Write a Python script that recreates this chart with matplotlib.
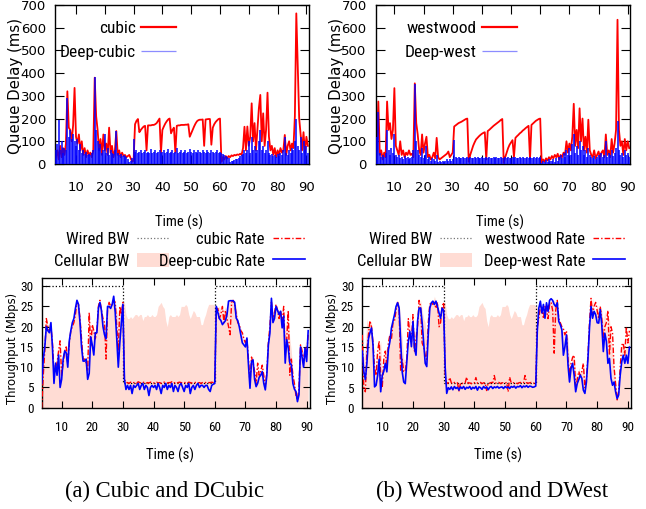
import matplotlib
matplotlib.use("Agg")
import matplotlib.pyplot as plt
import numpy as np
from matplotlib import font_manager
from matplotlib.font_manager import FontProperties

# queue delay (ms), one sample every 0.5 s starting at t = 3.0 s
delay_t0 = 3.0
cubic_delay = [
    30, 60, 20, 80, 30, 70, 40, 90, 320, 160, 150, 100, 170, 335,
    120, 90, 130, 60, 100, 40, 70, 30, 60, 40, 50, 30, 60, 380, 210, 150, 60, 110, 40, 130,
    60, 90, 40, 160, 50, 80, 30, 60, 145, 40, 60, 30, 50, 35, 40, 30, 35, 40, 25, 10,
    15, 175, 190, 198, 140, 150, 158, 165, 168, 60, 170, 170, 170, 172, 172, 175, 180, 190, 200, 50,
    150, 165, 178, 188, 196, 200, 135, 150, 160, 50, 168, 170, 170, 172, 172, 172, 173, 173, 175, 120,
    135, 150, 165, 178, 188, 193, 195, 195, 196, 80, 196, 197, 198, 198, 85, 160, 175, 185, 192, 198,
    200, 10, 30, 20, 35, 25, 35, 30, 38, 35, 40, 38, 42, 40, 45, 40, 70, 164, 60, 165,
    80, 120, 267, 100, 180, 60, 150, 245, 304, 100, 223, 80, 150, 314, 120, 60, 80, 40, 70, 30,
    60, 40, 70, 50, 60, 128, 40, 80, 100, 60, 90, 70, 210, 663, 430, 200, 130, 60, 140, 50,
    120, 80,
]
deep_cubic_delay = [
    60, 90, 195, 60, 100, 50, 70, 60, 290, 120, 150, 110, 130, 100,
    80, 110, 60, 90, 50, 60, 45, 55, 40, 45, 40, 50, 60, 385, 150, 100, 70, 90, 50, 60,
    130, 50, 70, 40, 60, 50, 45, 60, 145, 50, 40, 45, 35, 40, 35, 30, 20, 10, 15, 25,
    110, 55, 60, 50, 55, 60, 50, 55, 60, 50, 55, 50, 65, 50, 55, 60, 50, 55, 60, 50,
    55, 60, 50, 55, 65, 50, 55, 60, 50, 55, 70, 50, 55, 60, 50, 55, 60, 50, 55, 65,
    55, 50, 60, 55, 50, 60, 55, 50, 60, 55, 50, 60, 55, 50, 60, 55, 50, 55, 60, 50,
    55, 50, 45, 40, 35, 30, 25, 10, 12, 15, 18, 20, 22, 25, 35, 40, 45, 60, 50, 60,
    100, 50, 120, 60, 80, 50, 60, 100, 150, 60, 80, 50, 60, 100, 50, 40, 45, 35, 40, 30,
    45, 35, 50, 40, 60, 120, 50, 40, 60, 50, 70, 60, 100, 200, 80, 60, 120, 50, 100, 60,
    80, 50,
]
westwood_delay = [
    20, 40, 60, 275, 40, 60, 20, 50, 30, 275, 150, 180, 110, 150,
    334, 80, 60, 40, 100, 40, 60, 30, 50, 40, 60, 40, 45, 30, 355, 180, 130, 60, 40, 130,
    50, 90, 120, 30, 40, 20, 30, 50, 25, 115, 30, 20, 25, 30, 35, 40, 45, 55, 30, 40,
    50, 165, 170, 175, 180, 183, 186, 190, 194, 198, 200, 10, 40, 60, 80, 95, 108, 115, 122, 128,
    133, 137, 140, 20, 145, 150, 156, 162, 168, 173, 178, 183, 188, 194, 198, 5, 30, 50, 70, 85,
    95, 105, 30, 115, 122, 128, 135, 140, 147, 152, 158, 163, 168, 20, 172, 178, 184, 190, 194, 198,
    200, 5, 20, 10, 25, 15, 30, 20, 35, 25, 40, 30, 45, 20, 40, 30, 50, 40, 100, 50,
    90, 60, 120, 265, 80, 150, 70, 245, 100, 200, 60, 120, 50, 195, 60, 40, 30, 60, 25, 40,
    55, 30, 50, 60, 30, 130, 40, 60, 30, 110, 50, 90, 150, 635, 150, 80, 100, 40, 110, 60,
    100, 70,
]
deep_west_delay = [
    100, 60, 120, 230, 50, 30, 40, 30, 50, 150, 60, 40, 70, 50,
    130, 40, 30, 40, 25, 30, 20, 35, 25, 30, 20, 25, 30, 60, 350, 100, 60, 40, 30, 70,
    25, 40, 80, 20, 30, 15, 25, 20, 15, 40, 10, 15, 10, 15, 10, 15, 20, 15, 20, 15,
    20, 105, 30, 28, 29, 27, 28, 30, 28, 27, 29, 28, 30, 27, 28, 29, 28, 30, 27, 28,
    29, 28, 27, 30, 28, 29, 27, 28, 30, 28, 29, 27, 28, 30, 28, 27, 29, 28, 30, 28,
    27, 29, 28, 30, 28, 27, 29, 28, 30, 27, 28, 29, 28, 30, 27, 28, 29, 28, 30, 28,
    29, 5, 15, 8, 18, 10, 20, 12, 15, 20, 10, 25, 15, 30, 40, 25, 50, 30, 60, 40,
    70, 40, 90, 130, 50, 80, 40, 100, 60, 80, 40, 60, 30, 70, 40, 30, 25, 35, 20, 30,
    40, 25, 50, 30, 40, 100, 30, 50, 40, 60, 35, 50, 70, 190, 60, 40, 50, 30, 60, 40,
    50, 30,
]

# throughput (Mbps), one sample every 0.5 s starting at t = 3.5 s
rate_t0 = 3.5
cellular_bw = [
    18, 12, 15, 22, 20, 21, 21, 16, 9, 11, 13, 15, 16.5,
    8, 12, 14, 15, 15, 17, 19.5, 21, 22, 24.5, 26.5, 25.5, 22, 17, 12, 12, 12, 14, 23.5, 17.5,
    20.5, 19, 18.5, 19.5, 25.5, 26.5, 24, 22, 21, 17, 25, 26, 25.5, 26, 27.5, 26, 24, 22, 25, 25,
    26, 26, 23, 22, 22, 22.5, 22, 22.5, 23, 23, 22.5, 23, 23, 21.5, 22.5, 22.5, 23, 22.5, 22.5, 23,
    22.5, 22.5, 23, 25, 25.5, 26, 25, 24.5, 21.5, 20, 22.5, 23, 22.5, 22.5, 22.5, 23, 22.5, 23, 25, 25,
    25, 25.5, 25, 23, 22, 23, 24, 23.5, 22.5, 22.5, 22.5, 20.5, 20.5, 22, 23, 24.5, 25.5, 25.5, 25.5, 25.5,
    25, 25, 24.5, 25, 24, 25, 24, 25, 23.5, 26, 26.5, 26.5, 26.5, 26, 25, 22, 20.5, 19.5, 18.5, 17,
    17, 17.5, 12, 10, 12.5, 12.5, 9, 7, 10, 8.5, 9, 11, 8, 6, 12, 19, 24, 27, 23, 24,
    25.5, 24, 24, 24, 21, 24, 19, 22, 22, 17, 14, 9, 6, 4, 3, 8, 15.5, 15, 12, 16,
    14, 19,
]
cubic_rate = [
    0, 8, 14, 22, 20, 19, 20, 16, 9, 10, 11, 14, 16.5,
    8, 11, 14, 15, 11, 16, 19, 20, 21, 23, 26, 25.5, 22, 17, 12, 12, 11, 9, 23.5, 15,
    20.5, 19, 17, 19, 25, 26.5, 24, 22, 21, 12, 24.5, 26, 25, 25.5, 26.5, 26, 20, 14, 25, 23,
    26, 7, 6.2, 6.2, 6, 6.3, 6.1, 6.2, 6.2, 6, 6.4, 6.2, 6.1, 6.3, 6.2, 6, 6.2, 6.1, 6.3, 6.2,
    6.1, 6.2, 6.3, 6.1, 6.2, 6, 6.2, 6.3, 6.2, 6.1, 6.2, 6.2, 6.4, 6.1, 6.2, 6, 6.2, 6.3, 6.2, 6.1,
    6.2, 6.2, 6, 6.3, 6.2, 6.1, 6.2, 6.2, 6.3, 6.1, 6.2, 6, 6.2, 6.3, 6.2, 6.1, 6.2, 6.2, 6.3, 6.2,
    6.5, 24, 24.5, 22, 23, 25, 21, 24, 22, 20, 18, 26, 26.5, 25.5, 23, 21, 20.5, 19, 18.5, 17,
    16, 17, 12, 6, 12.5, 11, 9, 6, 11, 8, 9, 10.5, 8, 5, 9, 16, 20, 26, 22, 23.5,
    25.5, 24, 22, 24, 21, 25, 13, 17, 24, 8, 12, 8, 6, 3, 2, 5, 15.5, 14, 11, 15,
    13, 18,
]
deep_cubic_rate = [
    6, 12, 15, 20, 19, 18.5, 21, 15, 6, 11, 8, 13, 5,
    7, 12, 14, 13.5, 10, 16.5, 19, 21, 22, 24.5, 26.5, 25.5, 21, 15, 11.5, 11.5, 12, 7, 8.5, 17.5,
    15.5, 13, 18.5, 18.5, 24.5, 26, 24, 20, 18, 17, 25, 25, 24.5, 25.5, 27.5, 23.5, 17, 10, 16, 21,
    25.5, 7, 4.5, 5.5, 4.5, 5.5, 3.5, 5.5, 5, 5.5, 6, 4.5, 5.5, 6, 4.5, 5.5, 5, 3, 5, 5.5,
    5, 5.5, 4.5, 6, 5, 3.5, 5.5, 5, 6, 4.5, 5.5, 5, 6, 4, 5.5, 5, 4, 5.5, 6, 5,
    4, 5.5, 5, 6, 3.5, 5, 5.5, 4.5, 5.5, 6, 5, 5.5, 5.5, 5, 5.5, 5.5, 4.5, 4, 5.5, 5.8,
    6, 25, 23.5, 22, 21.5, 20.5, 21, 21.5, 23, 26.3, 26.4, 26.4, 26.4, 26, 22.1, 21.5, 20, 18, 16, 15.5,
    15, 17.2, 10.6, 4.8, 11.4, 11.8, 7, 5.2, 6, 7.5, 8, 8.9, 6, 4.4, 8, 15.5, 18.4, 27, 21, 22,
    25, 24, 23, 23.8, 19.7, 22.6, 11, 16.8, 14.7, 11, 10.6, 6, 4.6, 4, 1.5, 3.2, 15, 12.5, 10, 14.7,
    11.4, 19,
]
westwood_rate = [
    18, 5, 4, 14, 18, 21.5, 20, 16, 10, 8, 14, 16.5, 8,
    5, 12, 14, 10, 16, 18, 17, 21, 21.5, 24, 26, 24, 9, 12, 9, 9, 12, 22, 18, 16,
    23, 14, 17, 20, 26.5, 25, 16, 15, 13, 12, 21, 25.5, 26, 25.5, 26, 24.5, 26, 20, 21, 25,
    26, 8, 6, 6.2, 7.5, 6.2, 6, 6.3, 6.1, 6.2, 4.2, 6.2, 6, 6.3, 6.2, 7.6, 6.1, 6.2, 6, 6.3,
    6.2, 7.5, 6.1, 6.2, 6.3, 6, 6.2, 6.2, 4.3, 6.2, 6.1, 6.3, 6.2, 8, 6.1, 6.2, 6.3, 6, 6.2, 6.2,
    6.1, 6.3, 4, 7.6, 6.2, 6.1, 6.3, 6.2, 6, 6.2, 6.3, 6.1, 6.2, 8, 6.2, 6.1, 6.2, 6.3, 6.2, 6.1,
    6.5, 20, 22, 25, 24.5, 22, 25, 24, 22, 25.5, 26, 24, 13.5, 24, 26.5, 22, 21, 20, 19.5, 18,
    19, 12, 8, 11, 12.5, 13, 5, 7, 9, 8, 9, 11, 5, 7, 13, 21, 27, 23, 25, 26,
    24, 22, 25, 22, 17, 20, 21, 24, 13, 20, 18.5, 10, 6, 2, 4, 10, 15.5, 16, 13, 20,
    16, 19,
]
deep_west_rate = [
    14, 9, 7, 11, 17, 18.5, 19.7, 15.5, 5.2, 5.6, 8, 12, 4,
    8, 9, 11, 8.9, 14.3, 16.4, 19.7, 21.3, 23, 25, 25.9, 24.6, 16.4, 8.9, 6.4, 6, 11.4, 16.4, 18.8, 15.1,
    21.3, 14.7, 13, 21.3, 24.6, 24.6, 21, 16, 11, 10.2, 18.4, 24.6, 25.9, 26.3, 25.5, 26.3, 25, 23.4, 22.1, 24.6,
    24, 10, 3.6, 5, 4.6, 5.2, 4.5, 5.3, 4.8, 5.1, 4.4, 5.2, 4.8, 5.3, 4.6, 5.1, 4.9, 5.3, 4.6, 5.1,
    4.8, 5.3, 4.4, 5.2, 5, 4.6, 5.3, 4.9, 5.2, 4.5, 5.1, 5.3, 4.8, 5.2, 5, 5.3, 4.9, 5.1, 5.2, 4.8,
    5.3, 5, 5.2, 4.8, 5.3, 5.1, 5.4, 4.9, 5.3, 5.2, 5.5, 5, 5.4, 5.2, 5.5, 5.1, 5.4, 5.3, 5.1, 5.2,
    5.4, 19, 24.6, 26.3, 23.4, 25.5, 22.1, 25.9, 23.8, 26.5, 26.9, 26.5, 25.5, 25, 25.9, 21.3, 20.5, 19.3, 13, 15.1,
    18, 10.6, 6.4, 9.8, 11, 8.1, 4, 6, 7, 8.1, 7.3, 4.4, 3.6, 6.4, 12.2, 19.7, 25, 22.1, 23.8, 23,
    21, 20.9, 24.2, 20.5, 13.9, 18.4, 16.4, 11, 12.2, 7.3, 5.6, 6.4, 4, 2.3, 3.2, 8.1, 11.4, 13, 11, 13,
    11, 15,
]
wired_t = [3.5, 30, 30, 60, 60, 91]
wired_bw = [30, 30, 6.2, 6.2, 30, 30]


def pick_narrow():
    entries = font_manager.fontManager.ttflist
    names = {f.name for f in entries}
    for fam in ("Liberation Sans Narrow", "Roboto Condensed", "Open Sans Condensed"):
        if fam in names:
            return fam, "normal", 1.0
    for f in entries:
        if f.name == "DejaVu Sans" and str(f.stretch) in ("condensed", "semi-condensed"):
            return "DejaVu Sans", "condensed", 0.9
    return "DejaVu Sans", "normal", 0.85


NARROW, STRETCH, K = pick_narrow()


def nfont(size):
    return FontProperties(family=NARROW, stretch=STRETCH, size=size * K)


RED = "#ff0000"
BLUE = "#0000ff"
PINK = "#ffdcd4"

fig = plt.figure(figsize=(6.46, 5.09), dpi=100)


def style_axes(ax, xlim, ylim, yticks, tick_fp, tick_len, xpad, ypad):
    ax.set_xlim(*xlim)
    ax.set_ylim(*ylim)
    ax.set_xticks(range(10, 91, 10))
    ax.set_yticks(yticks)
    ax.tick_params(direction="in", top=True, right=True, length=tick_len, width=0.8)
    ax.tick_params(axis="x", pad=xpad)
    ax.tick_params(axis="y", pad=ypad)
    for lab in ax.get_xticklabels() + ax.get_yticklabels():
        lab.set_fontproperties(tick_fp)
    for sp in ax.spines.values():
        sp.set_linewidth(1.0)


def delay_panel(rect, red_vals, blue_vals, red_label, blue_label, xlim, leg_x, xlab_x):
    ax = fig.add_axes(rect)
    t = delay_t0 + 0.5 * np.arange(len(red_vals))
    ax.plot(t, red_vals, color=RED, lw=1.3, label=red_label, zorder=2)
    ax.vlines(t, 0, blue_vals, color=BLUE, lw=1.1, label=blue_label, zorder=3)
    style_axes(ax, xlim, (0, 700), range(0, 701, 100),
               FontProperties(family="DejaVu Sans", size=9.5), 6.5, 12, 6.5)
    ax.set_xlabel("Time (s)", fontproperties=nfont(10.5))
    ax.xaxis.label.set_va("center")
    ax.xaxis.set_label_coords(xlab_x, -0.365)
    ax.set_ylabel("Queue Delay (ms)", fontfamily="DejaVu Sans", fontsize=10.8)
    ax.yaxis.label.set_va("center")
    ax.yaxis.set_label_coords(-0.155, 0.49)
    leg = ax.legend(loc="upper right", bbox_to_anchor=(leg_x, 0.9), frameon=False,
                    markerfirst=False, prop=nfont(12.5),
                    handlelength=2.0, handletextpad=0.3, labelspacing=0.5,
                    borderpad=0, borderaxespad=0)
    leg.legend_handles[0].set_linewidth(1.6)
    leg.legend_handles[1].set_linewidth(0.9)
    leg.legend_handles[1].set_color("#8c8cff")
    return ax


def rate_panel(rect, red_vals, blue_vals, red_label, blue_label, xlim, leg_x, colsp, xlab_x):
    ax = fig.add_axes(rect)
    t = rate_t0 + 0.5 * np.arange(len(cellular_bw))
    h_cell = ax.fill_between(t, 0, cellular_bw, color=PINK, lw=0, zorder=1)
    h_wire, = ax.plot(wired_t, wired_bw, color="k", ls=":", lw=0.9, zorder=2)
    h_red, = ax.plot(t, red_vals, color=RED, lw=1.0, dashes=(4, 1.5, 1, 1.5), zorder=3)
    h_blue, = ax.plot(t, blue_vals, color=BLUE, lw=1.2, zorder=4)
    style_axes(ax, xlim, (0, 32), range(0, 31, 5), nfont(9.5), 5, 9.5, 6)
    ax.set_xlabel("Time (s)", fontproperties=nfont(10.5))
    ax.xaxis.label.set_va("center")
    ax.xaxis.set_label_coords(xlab_x, -0.365)
    ax.set_ylabel("Throughput (Mbps)", fontfamily="DejaVu Sans", fontsize=8.4)
    ax.yaxis.label.set_va("center")
    ax.yaxis.set_label_coords(-0.11, 0.46)
    leg = ax.legend([h_wire, h_cell, h_red, h_blue],
                    ["Wired BW", "Cellular BW", red_label, blue_label],
                    ncol=2, loc="lower right", bbox_to_anchor=(leg_x, 0.472),
                    bbox_transform=fig.transFigure, frameon=False, markerfirst=False,
                    prop=nfont(12), handlelength=1.9,
                    handleheight=0.9, handletextpad=0.5, labelspacing=0.35,
                    columnspacing=colsp, borderpad=0, borderaxespad=0)
    leg.legend_handles[0].set_color("#777777")
    return ax


delay_panel([0.0851, 0.6778, 0.3932, 0.3124], cubic_delay, deep_cubic_delay,
            "cubic", "Deep-cubic", (2.7, 90.9), 0.475, 0.49)
delay_panel([0.5816, 0.6778, 0.3937, 0.3124], westwood_delay, deep_west_delay,
            "westwood", "Deep-west", (3.6, 90.8), 0.554, 0.49)
rate_panel([0.0646, 0.199, 0.4153, 0.2548], cubic_rate, deep_cubic_rate,
           "cubic Rate", "Deep-cubic Rate", (3.5, 91.1), 0.472, -0.6, 0.478)
rate_panel([0.5608, 0.1984, 0.4159, 0.2554], westwood_rate, deep_west_rate,
           "westwood Rate", "Deep-west Rate", (3.5, 91.0), 0.9675, 0.7, 0.505)

fig.text(165 / 646, 1 - 491 / 509, "(a) Cubic and DCubic", family="Liberation Serif",
         fontsize=16.3, ha="center", va="center")
fig.text(492 / 646, 1 - 491 / 509, "(b) Westwood and DWest", family="Liberation Serif",
         fontsize=16.3, ha="center", va="center")

fig.savefig("out.png", dpi=100, facecolor="white")
